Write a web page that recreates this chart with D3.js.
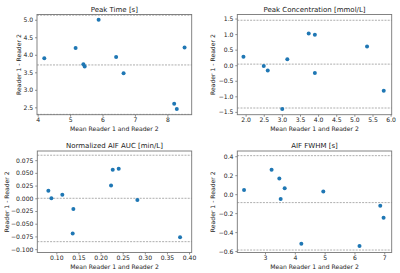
<!DOCTYPE html>
<html>
<head>
<meta charset="utf-8">
<script src="https://cdn.jsdelivr.net/npm/d3@7"></script>
<style>
  body { margin: 0; background: #fff; }
  svg { display: block; font-family: "DejaVu Sans", sans-serif; }
</style>
</head>
<body>
<svg id="svg" width="400" height="273"></svg>
<script>
// Bland-Altman data
var peakTimeMean = [4.205, 5.17, 5.88, 5.41, 5.45, 6.42, 6.65, 8.21, 8.29, 8.53];
var peakTimeDiff = [3.90, 4.195, 5.00, 3.73, 3.665, 3.94, 3.475, 2.60, 2.45, 4.21];
var peakTimeLines = [5.13, 3.71, 2.30];

var peakConcMean = [1.94, 2.50, 2.61, 3.01, 3.15, 3.74, 3.91, 3.91, 5.35, 5.81];
var peakConcDiff = [0.27, -0.025, -0.17, -1.41, 0.19, 1.02, 0.98, -0.25, 0.60, -0.82];
var peakConcLines = [1.445, 0.035, -1.375];

var aucMean = [0.082, 0.0888, 0.1136, 0.1385, 0.137, 0.2237, 0.2275, 0.241, 0.2832, 0.3797];
var aucDiff = [0.0149, 0.000, 0.0072, -0.0213, -0.069, 0.0253, 0.0563, 0.0582, -0.0032, -0.0768];
var aucLines = [0.0847, 0.0, -0.0853];

var fwhmMean = [2.296, 3.22, 3.48, 3.66, 3.525, 4.218, 4.955, 6.17, 6.866, 6.978];
var fwhmDiff = [0.045, 0.258, 0.166, 0.063, -0.051, -0.522, 0.027, -0.547, -0.122, -0.249];
var fwhmLines = [0.406, -0.089, -0.589];

var peakTimeXTicks = [4, 5, 6, 7, 8];
var peakTimeYTicks = [2.5, 3.0, 3.5, 4.0, 4.5, 5.0];
var peakConcXTicks = [2.0, 2.5, 3.0, 3.5, 4.0, 4.5, 5.0, 5.5, 6.0];
var peakConcYTicks = [-1.5, -1.0, -0.5, 0.0, 0.5, 1.0, 1.5];
var aucXTicks = [0.10, 0.15, 0.20, 0.25, 0.30, 0.35, 0.40];
var aucYTicks = [-0.100, -0.075, -0.050, -0.025, 0.000, 0.025, 0.050, 0.075];
var fwhmXTicks = [3, 4, 5, 6, 7];
var fwhmYTicks = [-0.6, -0.4, -0.2, 0.0, 0.2, 0.4];

var titles = ["Peak Time [s]", "Peak Concentration [mmol/L]", "Normalized AIF AUC [min/L]", "AIF FWHM [s]"];
var xLabel = "Mean Reader 1 and Reader 2";
var yLabel = "Reader 1 - Reader 2";

var svg = d3.select("#svg");

var panels = [
  {title: titles[0], mean: peakTimeMean, diff: peakTimeDiff, lines: peakTimeLines,
   xTicks: peakTimeXTicks, yTicks: peakTimeYTicks, xFmt: "d", yFmt: ".1f",
   xDom: [3.98, 8.75], yDom: [2.29, 5.15], left: 37, right: 191.7, top: 14.5, bottom: 114.7, ylx: 19},
  {title: titles[1], mean: peakConcMean, diff: peakConcDiff, lines: peakConcLines,
   xTicks: peakConcXTicks, yTicks: peakConcYTicks, xFmt: ".1f", yFmt: ".1f",
   xDom: [1.77, 6.03], yDom: [-1.59, 1.63], left: 237.3, right: 391.7, top: 14.5, bottom: 114.7, ylx: 212.5},
  {title: titles[2], mean: aucMean, diff: aucDiff, lines: aucLines,
   xTicks: aucXTicks, yTicks: aucYTicks, xFmt: ".2f", yFmt: ".3f",
   xDom: [0.057, 0.406], yDom: [-0.1066, 0.093], left: 37.3, right: 191.7, top: 151, bottom: 252.5, ylx: 6.7},
  {title: titles[3], mean: fwhmMean, diff: fwhmDiff, lines: fwhmLines,
   xTicks: fwhmXTicks, yTicks: fwhmYTicks, xFmt: "d", yFmt: ".1f",
   xDom: [2.07, 7.25], yDom: [-0.615, 0.455], left: 237.3, right: 391.7, top: 151, bottom: 252.5, ylx: 213.3}
];

panels.forEach(function (p) {
  var xScale = d3.scaleLinear().domain(p.xDom).range([p.left, p.right]);
  var yScale = d3.scaleLinear().domain(p.yDom).range([p.bottom, p.top]);

  var g = svg.append("g");

  // dashed mean / limits of agreement
  g.selectAll("line.loa")
    .data(p.lines)
    .enter()
    .append("line")
    .attr("class", "loa")
    .attr("x1", p.left)
    .attr("x2", p.right)
    .attr("y1", function (d) { return yScale(d); })
    .attr("y2", function (d) { return yScale(d); })
    .attr("stroke", "#999")
    .attr("stroke-width", 0.8)
    .attr("stroke-dasharray", "2,1.2");

  g.selectAll("circle")
    .data(p.mean)
    .enter()
    .append("circle")
    .attr("cx", function (d) { return xScale(d); })
    .attr("cy", function (d, i) { return yScale(p.diff[i]); })
    .attr("r", 2)
    .attr("fill", "#1f77b4");

  var xAxis = g.append("g")
    .attr("transform", "translate(0," + p.bottom + ")")
    .call(d3.axisBottom(xScale).tickValues(p.xTicks).tickFormat(d3.format(p.xFmt))
      .tickSize(2).tickPadding(0.8));

  var yAxis = g.append("g")
    .attr("transform", "translate(" + p.left + ",0)")
    .call(d3.axisLeft(yScale).tickValues(p.yTicks).tickFormat(d3.format(p.yFmt))
      .tickSize(2).tickPadding(1.8));

  [xAxis, yAxis].forEach(function (a) {
    a.select(".domain").remove();
    a.selectAll("line").attr("stroke", "#444").attr("stroke-width", 0.6);
    a.selectAll("text").attr("font-size", 6.1).attr("fill", "#222")
      .attr("font-family", "DejaVu Sans, sans-serif");
  });

  // frame
  g.append("rect")
    .attr("x", p.left)
    .attr("y", p.top)
    .attr("width", p.right - p.left)
    .attr("height", p.bottom - p.top)
    .attr("fill", "none")
    .attr("stroke", "#777")
    .attr("stroke-width", 0.9);

  g.append("text")
    .attr("x", (p.left + p.right) / 2)
    .attr("y", p.top - 3)
    .attr("text-anchor", "middle")
    .attr("font-size", 7)
    .attr("fill", "#222")
    .text(p.title);

  g.append("text")
    .attr("x", (p.left + p.right) / 2)
    .attr("y", p.bottom + 16.5)
    .attr("text-anchor", "middle")
    .attr("font-size", 6.1)
    .attr("fill", "#222")
    .text(xLabel);

  g.append("text")
    .attr("transform", "translate(" + p.ylx + "," + ((p.top + p.bottom) / 2) + ") rotate(-90)")
    .attr("dy", "0.35em")
    .attr("text-anchor", "middle")
    .attr("font-size", 6.1)
    .attr("fill", "#222")
    .text(yLabel);
});
</script>
</body>
</html>
